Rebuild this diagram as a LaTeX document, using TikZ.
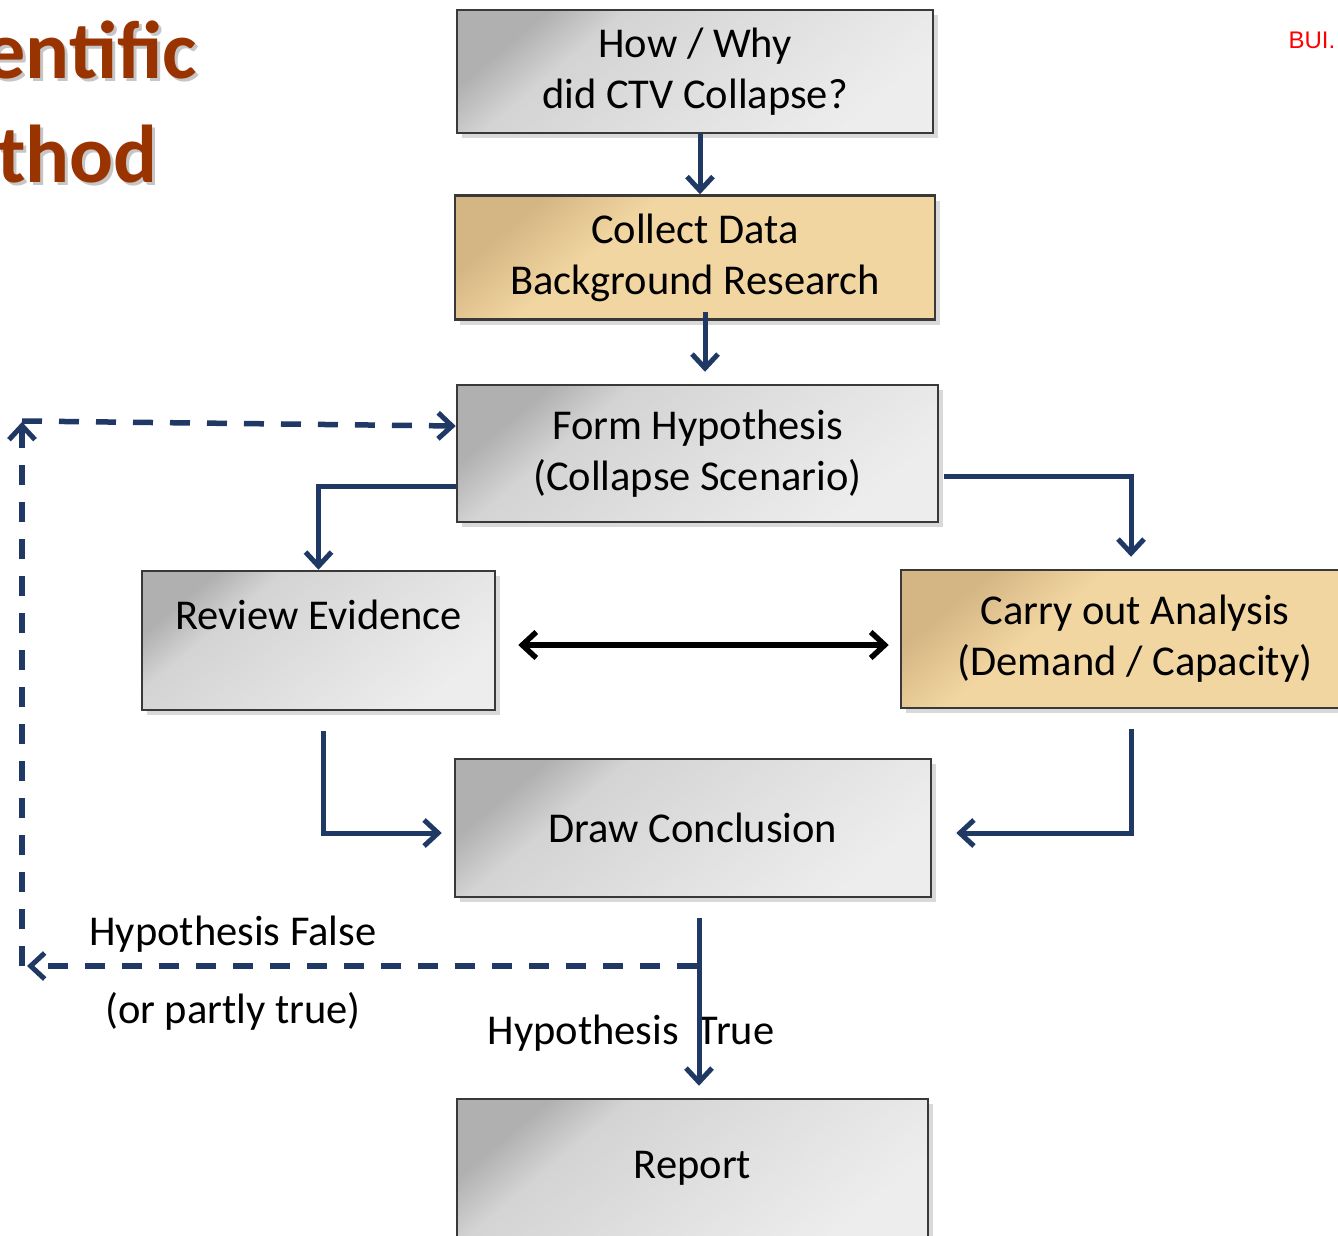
\documentclass[tikz,border=0pt]{standalone}
\usepackage{fontspec}
\setmainfont{Carlito}
\newfontfamily\arialfont{Liberation Sans}
\usepackage{xcolor}
\usetikzlibrary{positioning,shadows,arrows.meta}

\definecolor{navy}{RGB}{31,56,100}
\definecolor{boxtan}{RGB}{242,214,161}
\definecolor{tandark}{RGB}{212,182,132}
\definecolor{titlebrown}{RGB}{153,51,0}

% fades that stay dark only near the top left corner
\pgfdeclareverticalshading{greyfade}{100bp}{color(0bp)=(gray!14); color(25bp)=(gray!14); color(50bp)=(gray!26); color(66bp)=(gray!34); color(75bp)=(gray!62); color(100bp)=(gray!62)}
\pgfdeclareverticalshading{tanfade}{100bp}{color(0bp)=(boxtan); color(25bp)=(boxtan); color(62bp)=(boxtan); color(75bp)=(tandark); color(100bp)=(tandark)}

\begin{document}
\begin{tikzpicture}[
      x = 1pt, y = -1pt,
      base/.style={rectangle, draw=gray!45!black, line width=2.5pt, inner sep=0pt,
        align=center, font=\fontsize{42.5}{51}\selectfont,
        drop shadow={shadow xshift=5pt, shadow yshift=-5pt, opacity=.3}},
      greybox/.style={base, shading=greyfade, shading angle=40},
      tanbox/.style={base, shading=tanfade, shading angle=40},
      flow/.style={draw=navy, line width=5pt, -{Straight Barb[length=14pt, width=26pt, line width=5pt]}},
      both/.style={draw=black, line width=5.5pt, {Straight Barb[length=14pt, width=26pt, line width=5.5pt]}-{Straight Barb[length=14pt, width=26pt, line width=5.5pt]}},
      back/.style={flow, line width=5.5pt, dash pattern=on 20pt off 17pt},
      lbl/.style={font=\fontsize{42.5}{50}\selectfont},
      ttl/.style={anchor=base east, inner sep=0pt, font=\bfseries\fontsize{82}{96}\selectfont},
    ]
      \useasboundingbox (0,0) rectangle (1338,1235);
      \clip (0,0) rectangle (1338,1235);

      % title, cut at the left edge
      \node[ttl, text=gray!45] at (200,81) {Scientific};
      \node[ttl, text=titlebrown] (ttl1) at (197,78) {Scientific};
      \node[ttl, text=gray!45] at (161,185) {Method};
      \node[ttl, text=titlebrown] (ttl2) at (158,182) {Method};
      \node[anchor=base west, font=\arialfont\fontsize{24}{28}\selectfont, text=red] (bui) at (1285,48) {BUI.};

      % main column
      \node[greybox, minimum width=476pt, minimum height=123pt] (q) at (695,71.5) {How / Why\\did CTV Collapse?};
      \node[tanbox, below = 60pt of q, minimum width=480pt, minimum height=124pt] (data) {Collect Data\\Background Research};
      \node[greybox, below = 63pt of data, xshift=2.5pt, minimum width=481pt, minimum height=137pt] (hyp) {Form Hypothesis\\(Collapse Scenario)};

      % side boxes
      \node[greybox, minimum width=353pt, minimum height=139pt] (rev) at (318.5,640.5) {Review Evidence\\~};
      \node[tanbox, minimum width=468pt, minimum height=138pt] (ana) at (1135,639) {Carry out Analysis\\(Demand / Capacity)};

      \node[greybox, minimum width=476pt, minimum height=138pt] (concl) at (693,828) {Draw Conclusion};
      \node[greybox, minimum width=471pt, minimum height=138pt] (rep) at (692.5,1168) {Report};

      % labels
      \node[lbl] (lfalse) at (233,934) {Hypothesis False};
      \node[lbl] (lpart) at (233,1011) {(or partly true)};
      \node[lbl] (ltrue) at (631,1033) {Hypothesis\ \ True};

      % connectors
      \draw[flow] ([xshift=5pt]q.south) -- ([xshift=5pt]data.north);
      \draw[flow] ([xshift=10pt,yshift=9pt]data.south) -- ([xshift=7.5pt,yshift=12pt]hyp.north);
      \draw[flow] ([yshift=-32.5pt]hyp.west) -| (rev.north);
      \draw[flow] ([xshift=5pt,yshift=-22.5pt]hyp.east) -| ([xshift=-4pt,yshift=12pt]ana.north);
      \draw[both] ([xshift=22pt,yshift=-4.5pt]rev.east) -- ([xshift=-11pt,yshift=-6pt]ana.west);
      \draw[flow] ([xshift=4.5pt,yshift=-20pt]rev.south) |- ([xshift=-12pt,yshift=-5pt]concl.west);
      \draw[flow] ([xshift=-4pt,yshift=-20pt]ana.south) |- ([xshift=24pt,yshift=-5pt]concl.east);
      \draw[flow] ([xshift=6pt,yshift=-20pt]concl.south) -- ([xshift=6.5pt,yshift=12pt]rep.north);

      % way back
      \coordinate (split) at (697,966);
      \coordinate (lowleft) at (22,966);
      \coordinate (upleft) at (22,421);
      \draw[back] (split) -- ([xshift=5pt]lowleft);
      \draw[back] (lowleft) -- ([yshift=-1pt]upleft);
      \draw[back] (upleft) -- ([yshift=27.5pt]hyp.west);

    \end{tikzpicture}
\end{document}
